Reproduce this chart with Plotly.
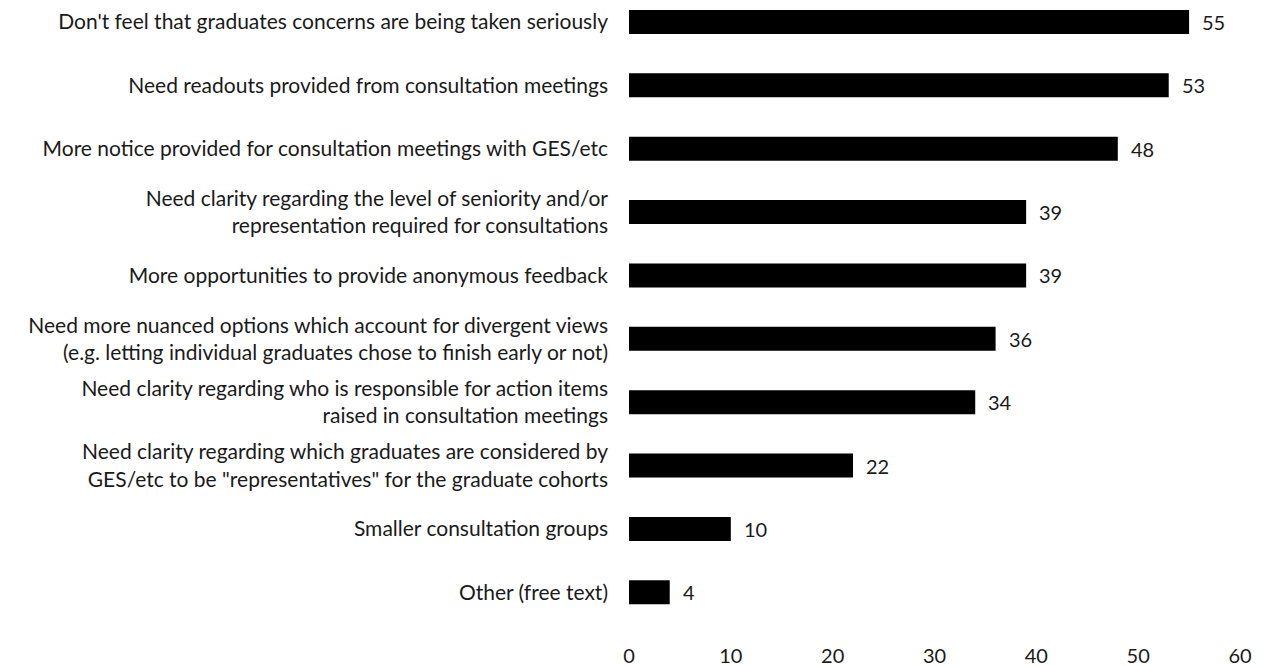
import plotly.graph_objects as go

categories = [
    "Don't feel that graduates concerns are being taken seriously",
    "Need readouts provided from consultation meetings",
    "More notice provided for consultation meetings with GES/etc",
    "Need clarity regarding the level of seniority and/or<br>representation required for consultations",
    "More opportunities to provide anonymous feedback",
    "Need more nuanced options which account for divergent views<br>(e.g. letting individual graduates chose to finish early or not)",
    "Need clarity regarding who is responsible for action items<br>raised in consultation meetings",
    "Need clarity regarding which graduates are considered by<br>GES/etc to be \"representatives\" for the graduate cohorts",
    "Smaller consultation groups",
    "Other (free text)",
]
values = [55, 53, 48, 39, 39, 36, 34, 22, 10, 4]
x_ticks = [0, 10, 20, 30, 40, 50, 60]

FONT = "Lato"
SIZE = 21
TXT = "#1a1a1a"

fig = go.Figure()
fig.add_trace(go.Bar(
    x=values, y=categories, orientation="h",
    marker=dict(color="black", line=dict(width=0)),
    width=0.38, hoverinfo="x+y",
))

for v, c in zip(values, categories):
    fig.add_annotation(x=v, y=c, text=str(v), showarrow=False,
                       xanchor="left", xshift=11,
                       font=dict(family=FONT, size=20, color=TXT))

fig.update_layout(
    width=1257, height=658,
    margin=dict(l=621, r=25, t=0, b=42),
    plot_bgcolor="white", paper_bgcolor="white",
    showlegend=False,
    font=dict(family=FONT, size=SIZE, color=TXT),
)
fig.update_xaxes(range=[0, 60], tickvals=x_ticks, showgrid=False, zeroline=False,
                 showline=False, ticks="", ticklabelstandoff=18,
                 tickfont=dict(family=FONT, size=20, color=TXT))
fig.update_yaxes(categoryorder="array", categoryarray=categories,
                 range=[9.5, -0.22], showgrid=False, zeroline=False,
                 showline=False, ticks="", ticklabelstandoff=20,
                 tickfont=dict(family=FONT, size=SIZE, color=TXT))

fig.write_html("out.html")
